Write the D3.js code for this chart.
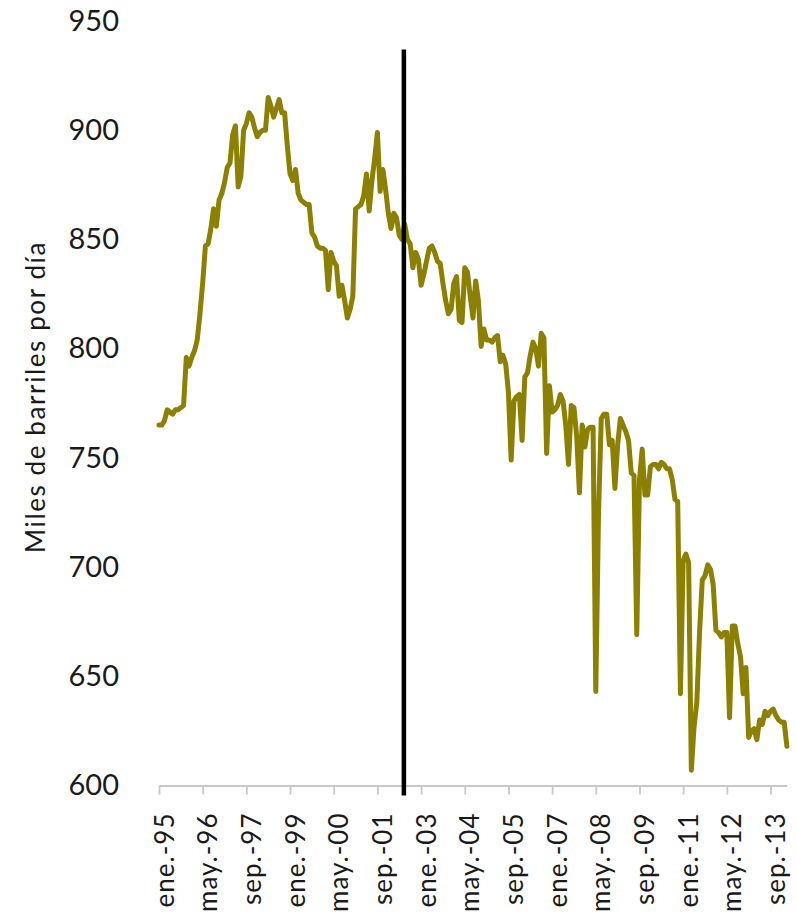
<!DOCTYPE html>
<html>
<head>
<meta charset="utf-8">
<script src="https://cdn.jsdelivr.net/npm/d3@7"></script>
<style>
    body { margin: 0; background: #ffffff; }
</style>
</head>
<body>
<div id="displaybox"></div>
<script>
// monthly production, ene-1995 .. mar-2014 (miles de barriles por dia)
let monthNames = ["ene.", "feb.", "mar.", "abr.", "may.", "jun.", "jul.", "ago.", "sep.", "oct.", "nov.", "dic."];
let startYear = 1995;

let production = [
    765, 765, 767, 772, 771, 770, 772, 772, 773, 774, 796, 792,
    796, 799, 804, 816, 830, 847, 848, 855, 864, 856, 868, 871,
    876, 883, 885, 898, 902, 874, 879, 900, 903, 908, 906, 901,
    897, 899, 900, 900, 915, 911, 906, 910, 914, 908, 908, 893,
    880, 877, 882, 871, 868, 867, 866, 866, 853, 851, 847, 846,
    846, 845, 827, 844, 840, 838, 824, 829, 822, 814, 818, 824,
    864, 865, 866, 870, 880, 863, 877, 887, 899, 872, 882, 873,
    862, 855, 862, 860, 852, 850, 857, 850, 848, 837, 844, 841,
    829, 834, 840, 846, 847, 844, 840, 839, 830, 822, 816, 818,
    830, 833, 813, 812, 837, 835, 824, 814, 831, 822, 801, 809,
    804, 804, 803, 805, 806, 794, 797, 793, 780, 749, 776, 778,
    779, 758, 787, 789, 797, 803, 800, 792, 807, 805, 752, 783,
    771, 772, 774, 779, 776, 765, 747, 774, 773, 760, 734, 765,
    755, 763, 764, 764, 643, 725, 768, 770, 770, 756, 758, 736,
    756, 768, 765, 762, 758, 743, 742, 669, 740, 754, 733, 733,
    746, 747, 747, 745, 748, 747, 745, 745, 740, 731, 730, 642,
    703, 706, 702, 607, 627, 638, 670, 694, 696, 701, 699, 692,
    671, 670, 668, 670, 670, 631, 673, 673, 665, 659, 642, 654,
    622, 625, 626, 621, 630, 628, 634, 632, 634, 635, 632, 630,
    629, 629, 618
];

let yTicks = [600, 650, 700, 750, 800, 850, 900, 950];
let tickStep = 16;        // one label every 16 months
let markerIndex = 89.7;   // vertical reference line (mid 2002)

let categories = production.map(function(d, i) {
    let m = (i % 12);
    let y = startYear + Math.floor(i / 12);
    return monthNames[m] + "-" + String(y).slice(2);
});

let width = 796;
let height = 919;

let svg = d3.select("#displaybox")
    .append("svg")
        .attr("width", width)
        .attr("height", height)
        .style("font-family", "Lato, 'Open Sans', sans-serif");

let x = d3.scaleLinear()
    .domain([0, production.length - 1])
    .range([159, 159 + 2.73 * (production.length - 1)]);

let y = d3.scaleLinear()
    .domain([600, 950])
    .range([785.5, 21]);

// y axis labels only
let yAxis = svg.append("g")
    .attr("transform", "translate(128, 0)")
    .call(d3.axisLeft(y).tickValues(yTicks).tickSize(0).tickPadding(9));
yAxis.select(".domain").remove();
yAxis.selectAll("text")
    .style("font-family", "Lato, sans-serif")
    .style("font-size", "29px")
    .attr("fill", "#1a1a1a");

svg.append("text")
    .attr("transform", "translate(45, 397) rotate(-90)")
    .attr("text-anchor", "middle")
    .style("font-size", "26px")
    .style("letter-spacing", "1.6px")
    .attr("fill", "#1a1a1a")
    .text("Miles de barriles por día");

// x axis
let xAxis = svg.append("g")
    .attr("transform", `translate(0, ${y(600)})`)
    .call(d3.axisBottom(x)
        .tickValues(d3.range(0, production.length, tickStep))
        .tickFormat(function(i) { return categories[i]; })
        .tickSize(9)
        .tickSizeOuter(0));
xAxis.select(".domain")
    .attr("stroke", "#c8c8c8")
    .attr("stroke-width", 1.8);
xAxis.selectAll(".tick line")
    .attr("stroke", "#c8c8c8")
    .attr("stroke-width", 1.8);
xAxis.selectAll(".tick text")
    .attr("transform", "translate(0, 27) rotate(-90)")
    .attr("text-anchor", "end")
    .attr("x", 0)
    .attr("y", 0)
    .attr("dy", "14px")
    .style("font-family", "Lato, sans-serif")
    .style("font-size", "26px")
    .style("letter-spacing", "1px")
    .attr("fill", "#1a1a1a");

// production line
let line = d3.line()
    .x(function(d, i) { return x(i); })
    .y(function(d) { return y(d); });

svg.append("path")
    .datum(production)
    .attr("d", line)
    .attr("fill", "none")
    .attr("stroke", "#8c8000")
    .attr("stroke-width", 5)
    .attr("stroke-linejoin", "round")
    .attr("stroke-linecap", "round");

// reference line
svg.append("line")
    .attr("x1", x(markerIndex))
    .attr("x2", x(markerIndex))
    .attr("y1", y(937))
    .attr("y2", y(600) + 10)
    .attr("stroke", "#000000")
    .attr("stroke-width", 4.5);
</script>
</body>
</html>
